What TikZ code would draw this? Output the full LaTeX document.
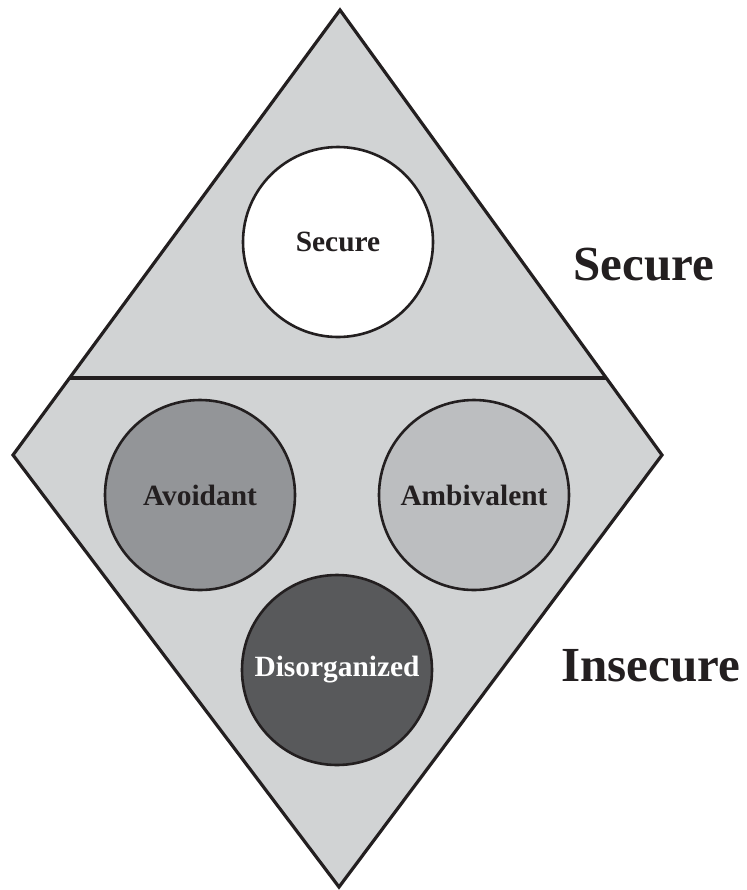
\documentclass[tikz,border=0pt]{standalone}
\usepackage{fontspec}
\setmainfont{Liberation Serif}
\usetikzlibrary{calc}

\definecolor{edgegray}{RGB}{35,31,32}
\definecolor{panegray}{RGB}{209,211,212}
\definecolor{avoidgray}{RGB}{147,149,152}
\definecolor{ambigray}{RGB}{188,190,192}
\definecolor{disorggray}{RGB}{88,89,91}

\tikzset{
  style circle/.style={circle, draw=edgegray, line width=1.3pt, minimum size=95pt,
    inner sep=0pt, font=\bfseries\fontsize{14.7}{17}\selectfont, text=edgegray},
  group label/.style={font=\bfseries\fontsize{24.5}{28}\selectfont, text=edgegray}
}

\begin{document}
\begin{tikzpicture}[x=0.5pt,y=-0.5pt]
    \useasboundingbox (0,0) rectangle (747,890);
    % corners of the diamond
    \coordinate (top) at (340,10);
    \coordinate (left) at (13,455);
    \coordinate (right) at (662,455);
    \coordinate (bottom) at (339,887);
    \draw[line width=1.6pt, draw=edgegray, fill=panegray, line join=miter]
        (top) -- (right) -- (bottom) -- (left) -- cycle;
    % divider between secure and insecure
    \coordinate (divL) at ($(left)!0.173!(top)$);
    \coordinate (divR) at ($(right)!0.173!(top)$);
    \draw[line width=1.6pt, draw=edgegray] (divL) -- (divR);

    \node[style circle, fill=white] (secure) at (338,242) {Secure};
    \node[style circle, fill=avoidgray] (avoidant) at (200,495) {Avoidant};
    \node[style circle, fill=ambigray] (ambivalent) at (474,495) {Ambivalent};
    \node[style circle, fill=disorggray, text=white] (disorganized) at (337,670) {Disorganized};

    \node[group label] (securelabel) at (644,265) {Secure};
    \node[group label] (insecurelabel) at (651,666) {Insecure};
\end{tikzpicture}
\end{document}
